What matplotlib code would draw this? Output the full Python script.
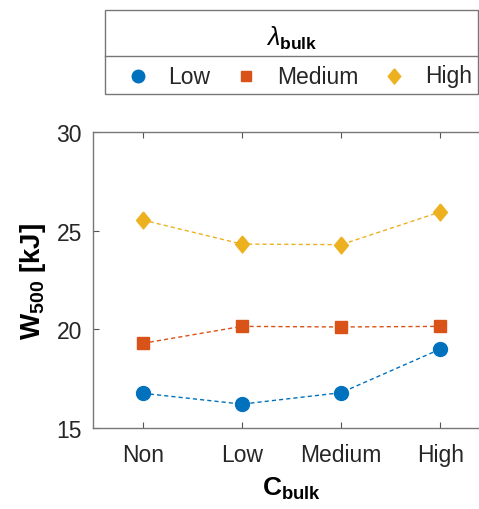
import matplotlib
matplotlib.use('Agg')
import matplotlib.pyplot as plt
from matplotlib.lines import Line2D
from matplotlib.patches import Rectangle

plt.rcParams['font.family'] = ['Liberation Sans', 'DejaVu Sans']
plt.rcParams['mathtext.fontset'] = 'custom'
plt.rcParams['mathtext.rm'] = 'Liberation Sans'
plt.rcParams['mathtext.it'] = 'Liberation Sans:italic'
plt.rcParams['mathtext.bf'] = 'Liberation Sans:bold'

categories = ['Non', 'Low', 'Medium', 'High']
series_names = ['Low', 'Medium', 'High']
w_low = [16.76, 16.21, 16.79, 19.00]
w_medium = [19.29, 20.15, 20.12, 20.15]
w_high = [25.54, 24.32, 24.29, 25.95]

colors = ['#0072BD', '#D95319', '#EDB120']
diamond = [(0, 1), (0.82, 0), (0, -1), (-0.82, 0), (0, 1)]
markers = ['o', 's', diamond]
msizes = [10, 8, 12.2]

W, H = 479, 510
fig = plt.figure(figsize=(W / 100, H / 100), dpi=100)
ax = fig.add_axes([93 / W, 1 - 429 / H, 397 / W, 296 / H])

x = list(range(1, len(categories) + 1))
for vals, c, m, ms in zip([w_low, w_medium, w_high], colors, markers, msizes):
    ax.plot(x, vals, linestyle='--', color=c, linewidth=1.0, dashes=(3, 2.2))
    ax.plot(x, vals, linestyle='none', marker=m, color=c, markersize=ms)

ax.set_xlim(0.5, 4.5)
ax.set_ylim(15, 30)
ax.set_xticks(x)
ax.set_xticklabels(categories)
ax.set_yticks([15, 20, 25, 30])
ax.tick_params(direction='in', length=4, width=0.8, colors='#555555',
               labelcolor='#262626', labelsize=16.5, top=True)
ax.tick_params(axis='x', pad=11)
ax.tick_params(axis='y', pad=8)
ax.spines['right'].set_visible(False)
for s in ax.spines.values():
    s.set_color('#777777')
    s.set_linewidth(1.0)

ax.set_xlabel(r'$\mathbf{C_{bulk}}$', fontsize=19, labelpad=6)
ax.set_ylabel(r'$\mathbf{W_{500}}$ [kJ]', fontsize=20, fontweight='bold', labelpad=6)

# legend drawn as a MATLAB-style box with a title row
def fx(px):
    return px / W

def fy(py):
    return 1 - py / H

edge = '#777777'
fig.add_artist(Rectangle((fx(105), fy(95)), fx(478) - fx(105), fy(11) - fy(95),
                         transform=fig.transFigure, fill=False, edgecolor=edge, linewidth=1.0))
fig.add_artist(Line2D([fx(105), fx(478)], [fy(57), fy(57)], color=edge, linewidth=1.0,
                      transform=fig.transFigure))
fig.text(fx(292), fy(38), r'$\lambda_{\mathbf{bulk}}$', fontsize=18, ha='center', va='center')

mark_px = [138, 246, 394]
text_px = [168, 277, 425]
leg_sizes = [9, 7, 11]
for name, c, m, ms, mx, tx in zip(series_names, colors, markers, leg_sizes, mark_px, text_px):
    fig.add_artist(Line2D([fx(mx)], [fy(77)], linestyle='none', marker=m, color=c,
                          markersize=ms, transform=fig.transFigure))
    fig.text(fx(tx), fy(77), name, fontsize=16.5, ha='left', va='center', color='#262626')

fig.savefig('out.png', dpi=100)
